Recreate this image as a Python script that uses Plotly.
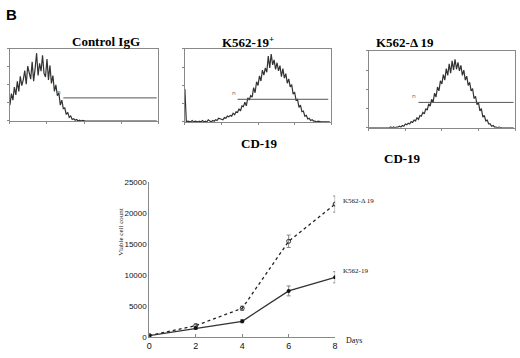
import plotly.graph_objects as go

W, H = 520, 358

# ---------- flow cytometry histograms (counts as % of frame height, 100 channels) ----------
channels = list(range(100))
ctrl_counts = [22, 38, 29, 47, 36, 55, 41, 62, 49, 57,
               70, 51, 76, 68, 58, 82, 55, 73, 94, 63,
               80, 69, 91, 66, 61, 86, 57, 77, 52, 63,
               41, 50, 35, 39, 22, 29, 17, 18, 9, 12,
               5, 7, 2, 3, 1, 2, 0, 1, 0, 1,
               0, 0, 0, 0, 0, 0, 0, 0, 0, 0,
               0, 0, 1, 0, 0, 0, 0, 0, 0, 0,
               0, 0, 0, 0, 0, 0, 0, 0, 0, 0,
               0, 0, 0, 0, 0, 0, 0, 0, 0, 0,
               0, 0, 0, 0, 0, 0, 0, 0, 0, 0]
k19_counts = [45, 0, 1, 0, 0, 2, 0, 1, 0, 0,
              1, 0, 2, 0, 1, 0, 3, 1, 0, 2,
              1, 3, 2, 5, 4, 4, 3, 6, 5, 8,
              7, 9, 8, 12, 10, 14, 13, 18, 15, 22,
              21, 27, 22, 33, 30, 36, 34, 47, 40, 55,
              50, 63, 56, 71, 64, 74, 68, 90, 74, 93,
              78, 85, 72, 81, 70, 77, 62, 73, 60, 66,
              53, 59, 48, 51, 38, 41, 30, 31, 20, 23,
              14, 15, 8, 9, 4, 5, 2, 3, 1, 1,
              0, 1, 0, 0, 0, 0, 0, 0, 0, 0]
kd19_counts = [0, 0, 0, 0, 0, 0, 0, 0, 0, 0,
               0, 0, 0, 0, 0, 1, 0, 1, 0, 1,
               1, 2, 1, 3, 2, 5, 4, 6, 5, 8,
               7, 10, 9, 13, 11, 16, 15, 20, 18, 25,
               23, 31, 28, 37, 33, 45, 40, 53, 48, 61,
               57, 69, 62, 77, 68, 83, 71, 87, 75, 89,
               76, 85, 74, 81, 68, 75, 62, 67, 55, 59,
               48, 51, 38, 41, 30, 33, 22, 25, 14, 16,
               9, 10, 5, 5, 2, 3, 1, 1, 0, 1,
               0, 0, 0, 0, 0, 0, 0, 0, 0, 0]
# gate marker lines: [start channel, end channel], level
ctrl_gate_x, ctrl_gate_y = [36, 99], 32
k19_gate_x, k19_gate_y = [36, 98], 31
kd19_gate_x, kd19_gate_y = [34, 99], 33

hist_titles = ["Control IgG", "K562-19<sup>+</sup>", "K562-\u0394 19"]

# ---------- growth curve ----------
days = [0, 2, 4, 6, 8]
k562_d19 = [300, 1900, 4700, 15500, 21500]
k562_d19_err = [0, 250, 350, 1000, 1300]
k562_19 = [300, 1500, 2600, 7500, 9700]
k562_19_err = [0, 200, 250, 800, 900]
y_ticks = [0, 5000, 10000, 15000, 20000, 25000]

fig = go.Figure()

def px(x):
    return x / W

def py(y):
    return 1 - y / H

hist_sets = [
    (ctrl_counts, ctrl_gate_x, ctrl_gate_y, (7, 157, 46, 120)),
    (k19_counts, k19_gate_x, k19_gate_y, (184, 332, 46, 121)),
    (kd19_counts, kd19_gate_x, kd19_gate_y, (370, 518, 48, 127)),
]
layout_axes = {}
for i, (counts, gx, gy, box) in enumerate(hist_sets, start=1):
    xa = "x" if i == 1 else f"x{i}"
    ya = "y" if i == 1 else f"y{i}"
    fig.add_trace(go.Scatter(x=channels, y=counts, mode="lines", xaxis=xa, yaxis=ya,
                             line=dict(color="#333333", width=1.2), showlegend=False,
                             hoverinfo="skip"))
    fig.add_trace(go.Scatter(x=gx, y=[gy, gy], mode="lines", xaxis=xa, yaxis=ya,
                             line=dict(color="#555555", width=1), showlegend=False,
                             hoverinfo="skip"))
    fig.add_annotation(x=gx[0], y=gy, xref=xa, yref=ya, text="n", showarrow=False,
                       xanchor="right", yanchor="bottom", font=dict(size=6, color="#666"))
    x0, x1, y0, y1 = box
    kx = "xaxis" if i == 1 else f"xaxis{i}"
    ky = "yaxis" if i == 1 else f"yaxis{i}"
    layout_axes[kx] = dict(domain=[px(x0), px(x1)], range=[0, 100], anchor=ya,
                           showgrid=False, zeroline=False, showline=True, mirror=True,
                           linecolor="#888888", linewidth=1,
                           tickvals=[0, 25, 50, 75, 100], showticklabels=False,
                           ticks="outside", ticklen=2, tickcolor="#888")
    layout_axes[ky] = dict(domain=[py(y1), py(y0)], range=[0, 100], anchor=xa,
                           showgrid=False, zeroline=False, showline=True, mirror=True,
                           linecolor="#888888", linewidth=1,
                           tickvals=[0, 25, 50, 75, 100], showticklabels=False,
                           ticks="outside", ticklen=2, tickcolor="#888")

# growth curve traces
fig.add_trace(go.Scatter(x=days, y=k562_d19, mode="lines+markers", xaxis="x4", yaxis="y4",
                         line=dict(color="#222", width=1.3, dash="dot"),
                         marker=dict(symbol="circle-open", size=4, color="#333"),
                         error_y=dict(type="data", array=k562_d19_err, color="#888",
                                      thickness=1, width=2),
                         showlegend=False))
fig.add_trace(go.Scatter(x=days, y=k562_19, mode="lines+markers", xaxis="x4", yaxis="y4",
                         line=dict(color="#333", width=1.3),
                         marker=dict(symbol="circle", size=4, color="#111"),
                         error_y=dict(type="data", array=k562_19_err, color="#888",
                                      thickness=1, width=2),
                         showlegend=False))

layout_axes["xaxis4"] = dict(domain=[px(148), px(336)], range=[0, 8], anchor="y4",
                             showgrid=False, zeroline=False, showline=True,
                             linecolor="#888", linewidth=1, tickvals=days,
                             ticks="inside", ticklen=3, tickcolor="#888",
                             tickfont=dict(family="Liberation Sans, Arial", size=9,
                                           color="#111"))
layout_axes["yaxis4"] = dict(domain=[py(342), py(183)], range=[0, 25000], anchor="x4",
                             showgrid=False, zeroline=False, showline=True,
                             linecolor="#888", linewidth=1, tickvals=y_ticks,
                             tickformat="d",
                             ticks="", tickfont=dict(family="Liberation Sans, Arial",
                                                     size=8, color="#111"))

serif = "Liberation Serif, Times New Roman, serif"
ann = [
    dict(x=px(1), y=py(0), text="<b>B</b>", xanchor="left", yanchor="top",
         font=dict(family="Liberation Sans, Arial", size=15, color="#000")),
    dict(x=px(68), y=py(29), text="<b>" + hist_titles[0] + "</b>",
         font=dict(family=serif, size=13, color="#000")),
    dict(x=px(248), y=py(29), text="<b>" + hist_titles[1] + "</b>",
         font=dict(family=serif, size=13, color="#000")),
    dict(x=px(438), y=py(30), text="<b>" + hist_titles[2] + "</b>",
         font=dict(family=serif, size=13, color="#000")),
    dict(x=px(259), y=py(143), text="<b>CD-19</b>",
         font=dict(family=serif, size=13, color="#000")),
    dict(x=px(425), y=py(158), text="<b>CD-19</b>",
         font=dict(family=serif, size=13, color="#000")),
    dict(x=px(113), y=py(260), text="Viable cell count", textangle=-90,
         font=dict(family=serif, size=7, color="#111")),
    dict(x=px(342), y=py(202), text="K562-\u0394 19", xanchor="left",
         font=dict(family=serif, size=7, color="#111")),
    dict(x=px(342), y=py(280), text="K562-19", xanchor="left",
         font=dict(family=serif, size=7, color="#111")),
    dict(x=px(345), y=py(352), text="Days", xanchor="left",
         font=dict(family=serif, size=8, color="#111")),
]
for a in ann:
    a.update(xref="paper", yref="paper", showarrow=False)
    fig.add_annotation(**a)

fig.update_layout(width=W, height=H, margin=dict(l=0, r=0, t=0, b=0),
                  paper_bgcolor="white", plot_bgcolor="white", **layout_axes)

fig.write_html("out.html", config={"displayModeBar": False},
               post_script="document.body.style.margin='0';document.body.style.padding='0';")
